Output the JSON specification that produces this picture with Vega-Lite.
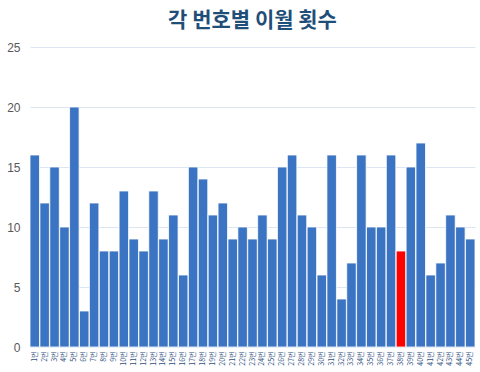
{
  "$schema": "https://vega.github.io/schema/vega-lite/v6.json",
  "width": 445,
  "height": 300,
  "autosize": {"type": "none"},
  "padding": {"left": 30, "top": 47, "right": 5, "bottom": 25},
  "background": "white",
  "title": {
    "text": "각 번호별 이월 횟수",
    "font": "Noto Sans CJK KR",
    "fontSize": 21,
    "fontWeight": "bold",
    "color": "#1F4E79",
    "anchor": "middle",
    "offset": 10
  },
  "data": {
    "values": [
      {"n": 1, "label": "1번", "count": 16},
      {"n": 2, "label": "2번", "count": 12},
      {"n": 3, "label": "3번", "count": 15},
      {"n": 4, "label": "4번", "count": 10},
      {"n": 5, "label": "5번", "count": 20},
      {"n": 6, "label": "6번", "count": 3},
      {"n": 7, "label": "7번", "count": 12},
      {"n": 8, "label": "8번", "count": 8},
      {"n": 9, "label": "9번", "count": 8},
      {"n": 10, "label": "10번", "count": 13},
      {"n": 11, "label": "11번", "count": 9},
      {"n": 12, "label": "12번", "count": 8},
      {"n": 13, "label": "13번", "count": 13},
      {"n": 14, "label": "14번", "count": 9},
      {"n": 15, "label": "15번", "count": 11},
      {"n": 16, "label": "16번", "count": 6},
      {"n": 17, "label": "17번", "count": 15},
      {"n": 18, "label": "18번", "count": 14},
      {"n": 19, "label": "19번", "count": 11},
      {"n": 20, "label": "20번", "count": 12},
      {"n": 21, "label": "21번", "count": 9},
      {"n": 22, "label": "22번", "count": 10},
      {"n": 23, "label": "23번", "count": 9},
      {"n": 24, "label": "24번", "count": 11},
      {"n": 25, "label": "25번", "count": 9},
      {"n": 26, "label": "26번", "count": 15},
      {"n": 27, "label": "27번", "count": 16},
      {"n": 28, "label": "28번", "count": 11},
      {"n": 29, "label": "29번", "count": 10},
      {"n": 30, "label": "30번", "count": 6},
      {"n": 31, "label": "31번", "count": 16},
      {"n": 32, "label": "32번", "count": 4},
      {"n": 33, "label": "33번", "count": 7},
      {"n": 34, "label": "34번", "count": 16},
      {"n": 35, "label": "35번", "count": 10},
      {"n": 36, "label": "36번", "count": 10},
      {"n": 37, "label": "37번", "count": 16},
      {"n": 38, "label": "38번", "count": 8},
      {"n": 39, "label": "39번", "count": 15},
      {"n": 40, "label": "40번", "count": 17},
      {"n": 41, "label": "41번", "count": 6},
      {"n": 42, "label": "42번", "count": 7},
      {"n": 43, "label": "43번", "count": 11},
      {"n": 44, "label": "44번", "count": 10},
      {"n": 45, "label": "45번", "count": 9}
    ]
  },
  "mark": {"type": "bar", "stroke": "#FFFFFF", "strokeWidth": 0.8},
  "encoding": {
    "x": {
      "field": "label",
      "type": "nominal",
      "sort": {"field": "n"},
      "scale": {"paddingInner": 0.04, "paddingOuter": 0},
      "axis": {
        "title": null,
        "labelAngle": -90,
        "labelFontSize": 7,
        "labelColor": "#2F4F7F",
        "labelFont": "Noto Sans CJK KR",
        "ticks": false,
        "domain": false,
        "labelPadding": 4
      }
    },
    "y": {
      "field": "count",
      "type": "quantitative",
      "scale": {"domain": [0, 25]},
      "axis": {
        "title": null,
        "values": [0, 5, 10, 15, 20, 25],
        "labelFontSize": 12,
        "labelColor": "#595959",
        "labelFont": "Liberation Sans",
        "labelPadding": 10,
        "ticks": false,
        "domain": false,
        "gridColor": "#DCE6F2",
        "gridWidth": 1
      }
    },
    "color": {
      "condition": {"test": "datum.n == 38", "value": "#FF0000"},
      "value": "#3B74C2"
    }
  },
  "config": {"view": {"stroke": null}}
}
